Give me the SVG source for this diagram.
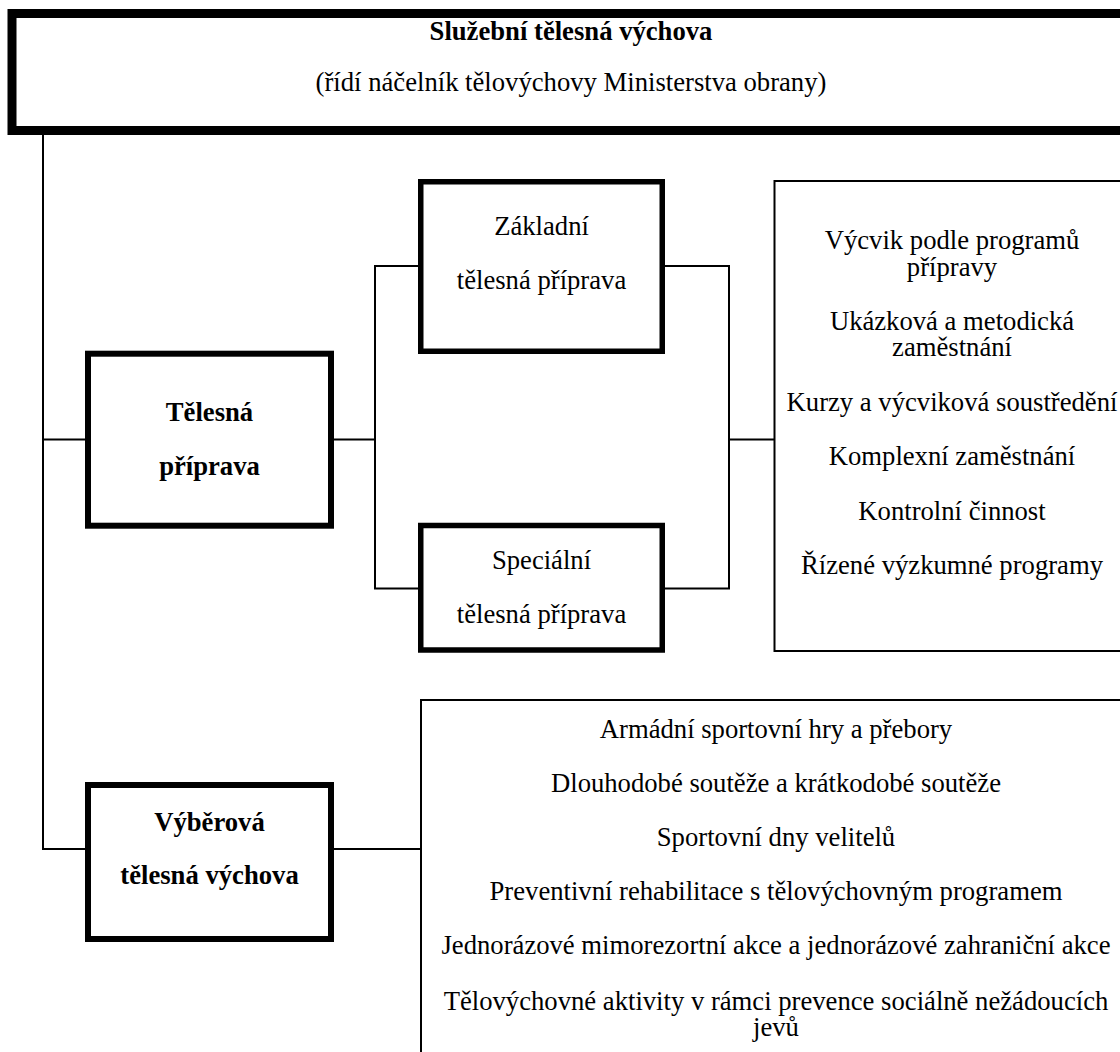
<svg xmlns="http://www.w3.org/2000/svg" width="1120" height="1052" viewBox="0 0 1120 1052">
<style>
  .bg { fill: #ffffff; }
  .top { fill: #ffffff; stroke: #000000; stroke-width: 9; }
  .mid { fill: #ffffff; stroke: #000000; stroke-width: 6; }
  .sub { fill: #ffffff; stroke: #000000; stroke-width: 5.5; }
  .list { fill: #ffffff; stroke: #000000; stroke-width: 2; }
  .conn { fill: none; stroke: #000000; stroke-width: 2; }
  text { font-family: "Liberation Serif", "Times New Roman", serif; font-size: 26.67px; fill: #000000; text-anchor: middle; }
  .b { font-weight: bold; }
</style>
<rect class="bg" x="0" y="0" width="1120" height="1052"/>

<g id="connectors">
  <polyline class="conn" points="43,135 43,849 85,849"/>
  <line class="conn" x1="43" y1="439.5" x2="85" y2="439.5"/>
  <line class="conn" x1="334" y1="439.5" x2="375" y2="439.5"/>
  <polyline class="conn" points="418,266 375,266 375,588.5 418,588.5"/>
  <polyline class="conn" points="665,266 729,266 729,588.5 665,588.5"/>
  <line class="conn" x1="729" y1="439.5" x2="774" y2="439.5"/>
  <line class="conn" x1="334" y1="849" x2="420" y2="849"/>
</g>

<g id="node-sluzebni">
  <rect class="top" x="12" y="13.5" width="1120" height="117"/>
  <text class="b" x="571" y="40">Služební tělesná výchova</text>
  <text x="571" y="91">(řídí náčelník tělovýchovy Ministerstva obrany)</text>
</g>

<g id="node-telesna-priprava">
  <rect class="mid" x="88" y="353.7" width="243" height="172"/>
  <text class="b" x="209.5" y="421">Tělesná</text>
  <text class="b" x="209.5" y="475">příprava</text>
</g>

<g id="node-zakladni">
  <rect class="sub" x="420.75" y="181.75" width="241.5" height="169.5"/>
  <text x="541.5" y="235">Základní</text>
  <text x="541.5" y="289">tělesná příprava</text>
</g>

<g id="node-specialni">
  <rect class="sub" x="420.75" y="525.5" width="241.5" height="124.5"/>
  <text x="541.5" y="569">Speciální</text>
  <text x="541.5" y="623">tělesná příprava</text>
</g>

<g id="node-priprava-formy">
  <rect class="list" x="774.5" y="181" width="356" height="470"/>
  <text x="952" y="249">Výcvik podle programů</text>
  <text x="952" y="275.5">přípravy</text>
  <text x="952" y="330">Ukázková a metodická</text>
  <text x="952" y="356">zaměstnání</text>
  <text x="952" y="410.5">Kurzy a výcviková soustředění</text>
  <text x="952" y="465">Komplexní zaměstnání</text>
  <text x="952" y="519.5">Kontrolní činnost</text>
  <text x="952" y="574">Řízené výzkumné programy</text>
</g>

<g id="node-vyberova">
  <rect class="mid" x="88" y="785" width="243" height="154"/>
  <text class="b" x="209.5" y="831">Výběrová</text>
  <text class="b" x="209.5" y="884">tělesná výchova</text>
</g>

<g id="node-vyberova-formy">
  <rect class="list" x="421" y="700" width="710" height="400"/>
  <text x="776" y="738">Armádní sportovní hry a přebory</text>
  <text x="776" y="792">Dlouhodobé soutěže a krátkodobé soutěže</text>
  <text x="776" y="846">Sportovní dny velitelů</text>
  <text x="776" y="900">Preventivní rehabilitace s tělovýchovným programem</text>
  <text x="776" y="954">Jednorázové mimorezortní akce a jednorázové zahraniční akce</text>
  <text x="776" y="1009.5">Tělovýchovné aktivity v rámci prevence sociálně nežádoucích</text>
  <text x="776" y="1035.5">jevů</text>
</g>
</svg>
